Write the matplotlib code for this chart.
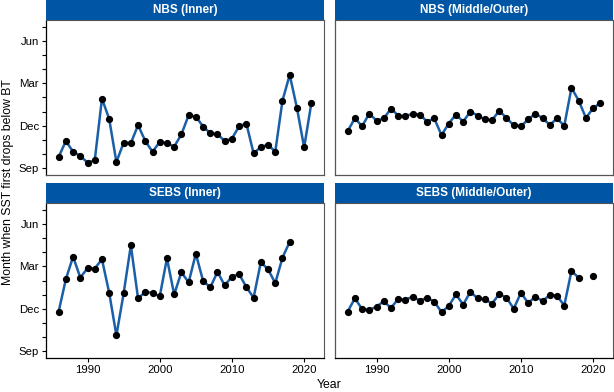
import matplotlib
matplotlib.use('Agg')
import matplotlib.pyplot as plt
import numpy as np

plt.rcParams['font.family'] = ['Liberation Sans', 'DejaVu Sans']

# month values: Sep=9, Dec=12, Mar=15, Jun=18
years = list(range(1986, 2022))

nbs_inner = [9.78, 10.91, 10.15, 9.85, 9.38, 9.54, 13.92, 12.48, 9.42, 10.79,
             10.76, 12.04, 10.91, 10.15, 10.84, 10.76, 10.51, 11.38, 12.74, 12.65,
             11.94, 11.47, 11.40, 10.91, 11.09, 11.96, 12.15, 10.04, 10.48, 10.65,
             10.15, 13.78, 15.61, 13.26, 10.46, 13.61]
nbs_mid = [11.61, 12.53, 11.96, 12.86, 12.36, 12.51, 13.21, 12.72, 12.67, 12.86,
           12.79, 12.29, 12.51, 11.33, 12.15, 12.79, 12.29, 13.00, 12.72, 12.44,
           12.39, 13.07, 12.53, 12.04, 11.96, 12.44, 12.86, 12.53, 12.06, 12.51,
           11.99, 14.69, 13.78, 12.55, 13.24, 13.61]
sebs_inner = [11.79, 14.09, 15.69, 14.21, 14.87, 14.85, 15.50, 13.13, 10.10, 13.08,
              16.49, 12.73, 13.18, 13.13, 12.87, 15.57, 13.01, 14.59, 13.86, 15.90,
              13.98, 13.51, 14.61, 13.65, 14.28, 14.45, 13.53, 12.78, 15.29, 14.80,
              13.81, 15.62, 16.75, np.nan, np.nan, np.nan]
sebs_mid = [11.79, 12.73, 11.98, 11.91, 12.15, 12.52, 12.05, 12.69, 12.64, 12.85,
            12.57, 12.78, 12.50, 11.75, 12.19, 13.01, 12.29, 13.20, 12.73, 12.66,
            12.36, 13.04, 12.78, 12.00, 13.13, 12.40, 12.85, 12.54, 12.97, 12.92,
            12.22, 14.68, 14.19, np.nan, 14.33, np.nan]

panels = ['NBS (Inner)', 'NBS (Middle/Outer)', 'SEBS (Inner)', 'SEBS (Middle/Outer)']
series = [nbs_inner, nbs_mid, sebs_inner, sebs_mid]

W, H = 614, 392
fig = plt.figure(figsize=(W / 100, H / 100), dpi=100)

lefts = [46, 335]
tops = [20, 203]
pw, ph, sh = 278, 155, 20
strip_col = '#0055A4'
line_col = '#1b5fa8'

for k, (name, vals) in enumerate(zip(panels, series)):
    r, c = divmod(k, 2)
    x0, y0 = lefts[c], tops[r]
    ax = fig.add_axes([x0 / W, 1 - (y0 + ph) / H, pw / W, ph / H])
    strip = fig.add_axes([x0 / W, 1 - y0 / H, pw / W, sh / H])
    strip.set_facecolor(strip_col)
    strip.set_xticks([])
    strip.set_yticks([])
    for s in strip.spines.values():
        s.set_visible(False)
    strip.text(0.5, 0.5, name, color='white', fontweight='bold', fontsize=8.5,
               ha='center', va='center', transform=strip.transAxes)

    v = np.array(vals, dtype=float)
    ax.plot(years, v, color=line_col, lw=1.8, zorder=2)
    ax.plot(years, v, 'o', color='black', ms=4.2, zorder=3)

    ax.set_xlim(1984.25, 2022.75)
    ax.set_ylim(8.5, 19.5)
    ax.set_yticks(range(9, 20))
    ax.set_yticklabels(['Sep', '', '', 'Dec', '', '', 'Mar', '', '', 'Jun', ''])
    ax.set_xticks([1990, 2000, 2010, 2020])
    ax.tick_params(labelsize=8.2, length=3, width=0.8, pad=2, colors='black')
    for s in ['top', 'right']:
        ax.spines[s].set_color('#555555')
        ax.spines[s].set_linewidth(0.8)
    for s in ['left', 'bottom']:
        ax.spines[s].set_color('black')
        ax.spines[s].set_linewidth(0.9)
    if r == 0:
        ax.tick_params(axis='x', length=0, labelbottom=False)
        ax.spines['bottom'].set_color('#555555')
    if c == 1:
        ax.tick_params(axis='y', length=0, labelleft=False)
        ax.spines['left'].set_color('#555555')

fig.text(8 / W, 1 - 182 / H, 'Month when SST first drops below BT', rotation=90,
         ha='center', va='center', fontsize=8.8)
fig.text((46 + 613) / 2 / W, 1 - 385 / H, 'Year', ha='center', va='center', fontsize=8.8)

fig.savefig('out.png', dpi=100)
